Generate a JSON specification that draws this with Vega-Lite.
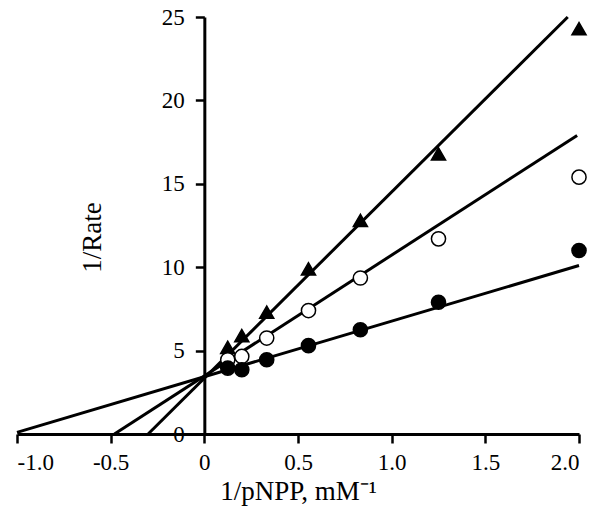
{
  "$schema": "https://vega.github.io/schema/vega-lite/v6.json",
  "width": 562,
  "height": 417,
  "autosize": {"type": "none"},
  "padding": {"left": 17, "top": 17, "right": 22, "bottom": 87},
  "background": "white",
  "config": {
    "view": {"stroke": null},
    "font": "Liberation Serif",
    "axis": {
      "grid": false,
      "domainColor": "black",
      "domainWidth": 3,
      "tickColor": "black",
      "tickWidth": 2.5,
      "tickSize": 9,
      "labelColor": "black",
      "labelFont": "Liberation Serif",
      "labelFontSize": 23,
      "titleColor": "black",
      "titleFont": "Liberation Serif",
      "titleFontSize": 27,
      "titleFontWeight": "normal"
    }
  },
  "datasets": {
    "points": [
      {"series": "A", "x": 0.125, "y": 5.2},
      {"series": "A", "x": 0.2, "y": 5.9},
      {"series": "A", "x": 0.333, "y": 7.3},
      {"series": "A", "x": 0.556, "y": 9.9},
      {"series": "A", "x": 0.833, "y": 12.8},
      {"series": "A", "x": 1.25, "y": 16.8},
      {"series": "A", "x": 2.0, "y": 24.3},
      {"series": "B", "x": 0.125, "y": 4.45},
      {"series": "B", "x": 0.2, "y": 4.65},
      {"series": "B", "x": 0.333, "y": 5.75},
      {"series": "B", "x": 0.556, "y": 7.4},
      {"series": "B", "x": 0.833, "y": 9.35},
      {"series": "B", "x": 1.25, "y": 11.7},
      {"series": "B", "x": 2.0, "y": 15.4},
      {"series": "C", "x": 0.125, "y": 3.95},
      {"series": "C", "x": 0.2, "y": 3.85},
      {"series": "C", "x": 0.333, "y": 4.45},
      {"series": "C", "x": 0.556, "y": 5.3},
      {"series": "C", "x": 0.833, "y": 6.25},
      {"series": "C", "x": 1.25, "y": 7.9},
      {"series": "C", "x": 2.0, "y": 11.0}
    ],
    "lines": [
      {"series": "A", "x": -0.30, "y": 0},
      {"series": "A", "x": 1.94, "y": 25},
      {"series": "B", "x": -0.48, "y": 0},
      {"series": "B", "x": 1.99, "y": 17.9},
      {"series": "C", "x": -1.0, "y": 0.1},
      {"series": "C", "x": 2.0, "y": 10.1}
    ]
  },
  "layer": [
    {
      "data": {"name": "lines"},
      "mark": {"type": "line", "color": "black", "strokeWidth": 3},
      "encoding": {
        "x": {
          "field": "x",
          "type": "quantitative",
          "scale": {"domain": [-1, 2], "nice": false, "zero": false},
          "axis": {
            "orient": "bottom",
            "values": [-1, -0.5, 0, 0.5, 1, 1.5, 2],
            "labelExpr": "datum.value == 0 ? '0' : (datum.value < 0 ? '-' + format(-datum.value, '.1f') : format(datum.value, '.1f'))",
            "labelPadding": 8,
            "title": "1/pNPP, mM⁻¹",
            "titlePadding": 4
          }
        },
        "y": {
          "field": "y",
          "type": "quantitative",
          "scale": {"domain": [0, 25], "nice": false},
          "axis": {
            "orient": "left",
            "offset": -187.33,
            "values": [0, 5, 10, 15, 20, 25],
            "labelPadding": 11,
            "title": "1/Rate",
            "titleX": -98,
            "titleY": 220
          }
        },
        "detail": {"field": "series"}
      }
    },
    {
      "data": {"name": "points"},
      "mark": {"type": "point", "filled": true, "stroke": "black", "strokeWidth": 1.5, "size": 200, "opacity": 1},
      "encoding": {
        "x": {"field": "x", "type": "quantitative"},
        "y": {"field": "y", "type": "quantitative"},
        "shape": {
          "field": "series",
          "type": "nominal",
          "scale": {"domain": ["A", "B", "C"], "range": ["triangle-up", "circle", "circle"]},
          "legend": null
        },
        "fill": {
          "field": "series",
          "type": "nominal",
          "scale": {"domain": ["A", "B", "C"], "range": ["black", "white", "black"]},
          "legend": null
        }
      }
    }
  ]
}
